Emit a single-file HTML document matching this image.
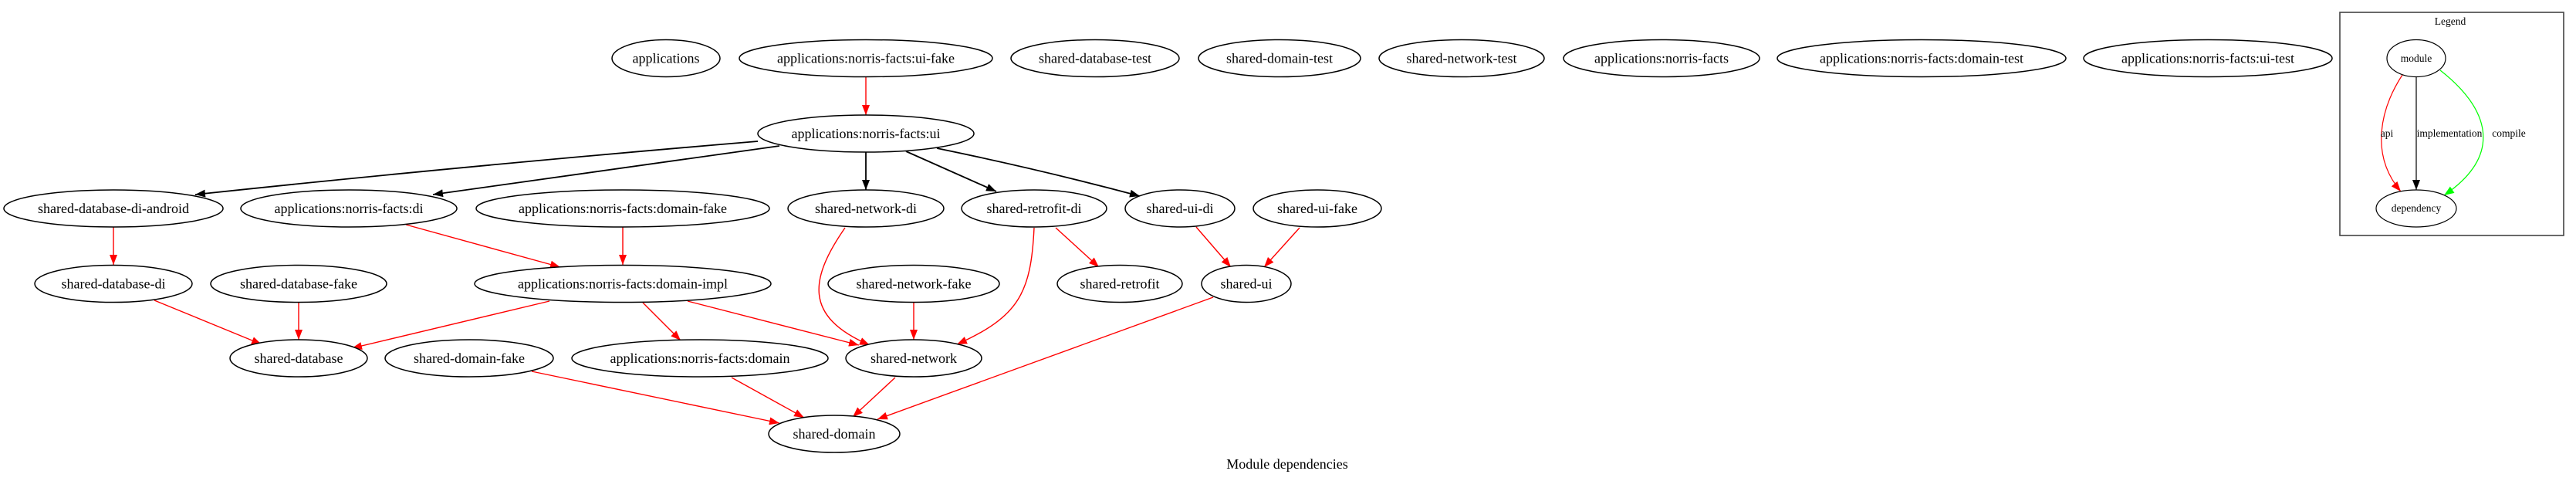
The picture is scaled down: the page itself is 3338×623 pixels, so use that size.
<!DOCTYPE html>
<html><head><meta charset="utf-8"><style>html,body{margin:0;padding:0;background:#fff}svg{display:block}</style></head>
<body>
<svg width="3338" height="623" viewBox="0 0 3338 623" xmlns="http://www.w3.org/2000/svg" font-family="Liberation Serif, serif">
<defs>
<marker id="ab" markerUnits="userSpaceOnUse" markerWidth="14" markerHeight="12" refX="13" refY="5" orient="auto"><path d="M0,0 L13,5 L0,10 z" fill="#000"/></marker>
<marker id="ar" markerUnits="userSpaceOnUse" markerWidth="14" markerHeight="12" refX="13" refY="5" orient="auto"><path d="M0,0 L13,5 L0,10 z" fill="#f00"/></marker>
<marker id="ag" markerUnits="userSpaceOnUse" markerWidth="14" markerHeight="12" refX="13" refY="5" orient="auto"><path d="M0,0 L13,5 L0,10 z" fill="#0f0"/></marker>
</defs>
<g fill="none">
<g stroke="#000" stroke-width="1.8" marker-end="url(#ab)">
<path d="M982,183 Q600,215 253,252"/>
<path d="M1010,189 Q780,222 561,252"/>
<path d="M1122,197 L1122,246"/>
<path d="M1174,196 L1291,248"/>
<path d="M1214,192 Q1350,220 1477,254"/>
</g>
<g stroke="#f00" stroke-width="1.4" marker-end="url(#ar)">
<path d="M1122,99 L1122,149"/>
<path d="M147,294 L147,343"/>
<path d="M526,291 L726,346"/>
<path d="M807,294 L807,343"/>
<path d="M1095,295 C1050,360 1040,410 1127,447"/>
<path d="M1340,295 C1336,380 1320,410 1240,446"/>
<path d="M1368,295 L1424,346"/>
<path d="M1550,294 L1595,346"/>
<path d="M1684,295 L1638,346"/>
<path d="M200,389 L339,446"/>
<path d="M387,392 L387,440"/>
<path d="M712,390 L456,451"/>
<path d="M833,392 L882,441"/>
<path d="M891,390 L1113,447"/>
<path d="M1184,392 L1184,440"/>
<path d="M1572,385 L1137,543"/>
<path d="M1160,489 L1105,540"/>
<path d="M948,489 L1042,541"/>
<path d="M689,481 L1010,548"/>
</g>
<path d="M3131,99 L3131,246" stroke="#000" stroke-width="1.2" marker-end="url(#ab)"/>
<path d="M3113,97 C3085,140 3070,200 3111,248" stroke="#f00" stroke-width="1.2" marker-end="url(#ar)"/>
<path d="M3162,91 C3225,140 3245,200 3167,253" stroke="#0f0" stroke-width="1.2" marker-end="url(#ag)"/>
<rect x="3032" y="16" width="290" height="289" stroke="#444" stroke-width="1.6"/>
</g>
<g fill="#fff" stroke="#000" stroke-width="1.5">
<ellipse cx="863" cy="75.5" rx="70" ry="24"/>
<ellipse cx="1122" cy="75.5" rx="164" ry="24"/>
<ellipse cx="1419" cy="75.5" rx="109" ry="24"/>
<ellipse cx="1658" cy="75.5" rx="105" ry="24"/>
<ellipse cx="1894" cy="75.5" rx="107" ry="24"/>
<ellipse cx="2153" cy="75.5" rx="127" ry="24"/>
<ellipse cx="2490" cy="75.5" rx="187" ry="24"/>
<ellipse cx="2861" cy="75.5" rx="161" ry="24"/>
<ellipse cx="1122" cy="173" rx="140" ry="24"/>
<ellipse cx="147" cy="270" rx="142" ry="24"/>
<ellipse cx="452" cy="270" rx="140" ry="24"/>
<ellipse cx="807" cy="270" rx="190" ry="24"/>
<ellipse cx="1122" cy="270" rx="101" ry="24"/>
<ellipse cx="1340" cy="270" rx="94" ry="24"/>
<ellipse cx="1529" cy="270" rx="71" ry="24"/>
<ellipse cx="1707" cy="270" rx="83" ry="24"/>
<ellipse cx="147" cy="367.5" rx="102" ry="24"/>
<ellipse cx="387" cy="367.5" rx="114" ry="24"/>
<ellipse cx="807" cy="367.5" rx="192" ry="24"/>
<ellipse cx="1184" cy="367.5" rx="111" ry="24"/>
<ellipse cx="1451" cy="367.5" rx="81" ry="24"/>
<ellipse cx="1615" cy="367.5" rx="58" ry="24"/>
<ellipse cx="387" cy="464" rx="89" ry="24"/>
<ellipse cx="608" cy="464" rx="109" ry="24"/>
<ellipse cx="907" cy="464" rx="166" ry="24"/>
<ellipse cx="1184" cy="464" rx="88" ry="24"/>
<ellipse cx="1081" cy="562" rx="85" ry="24"/>
<ellipse cx="3131" cy="75.5" rx="38" ry="24" stroke-width="1.2"/>
<ellipse cx="3131" cy="270" rx="52" ry="24" stroke-width="1.2"/>
</g>
<g font-size="18" text-anchor="middle" fill="#000">
<text x="863" y="81.5">applications</text>
<text x="1122" y="81.5">applications:norris-facts:ui-fake</text>
<text x="1419" y="81.5">shared-database-test</text>
<text x="1658" y="81.5">shared-domain-test</text>
<text x="1894" y="81.5">shared-network-test</text>
<text x="2153" y="81.5">applications:norris-facts</text>
<text x="2490" y="81.5">applications:norris-facts:domain-test</text>
<text x="2861" y="81.5">applications:norris-facts:ui-test</text>
<text x="1122" y="179">applications:norris-facts:ui</text>
<text x="147" y="276">shared-database-di-android</text>
<text x="452" y="276">applications:norris-facts:di</text>
<text x="807" y="276">applications:norris-facts:domain-fake</text>
<text x="1122" y="276">shared-network-di</text>
<text x="1340" y="276">shared-retrofit-di</text>
<text x="1529" y="276">shared-ui-di</text>
<text x="1707" y="276">shared-ui-fake</text>
<text x="147" y="373.5">shared-database-di</text>
<text x="387" y="373.5">shared-database-fake</text>
<text x="807" y="373.5">applications:norris-facts:domain-impl</text>
<text x="1184" y="373.5">shared-network-fake</text>
<text x="1451" y="373.5">shared-retrofit</text>
<text x="1615" y="373.5">shared-ui</text>
<text x="387" y="470">shared-database</text>
<text x="608" y="470">shared-domain-fake</text>
<text x="907" y="470">applications:norris-facts:domain</text>
<text x="1184" y="470">shared-network</text>
<text x="1081" y="568">shared-domain</text>
<text x="1668" y="607">Module dependencies</text>
</g>
<g font-size="13.5" text-anchor="middle" fill="#000">
<text x="3175" y="32">Legend</text>
<text x="3131" y="80">module</text>
<text x="3131" y="274">dependency</text>
<text x="3093" y="177">api</text>
<text x="3174" y="177">implementation</text>
<text x="3251" y="177">compile</text>
</g>
</svg>
</body></html>
